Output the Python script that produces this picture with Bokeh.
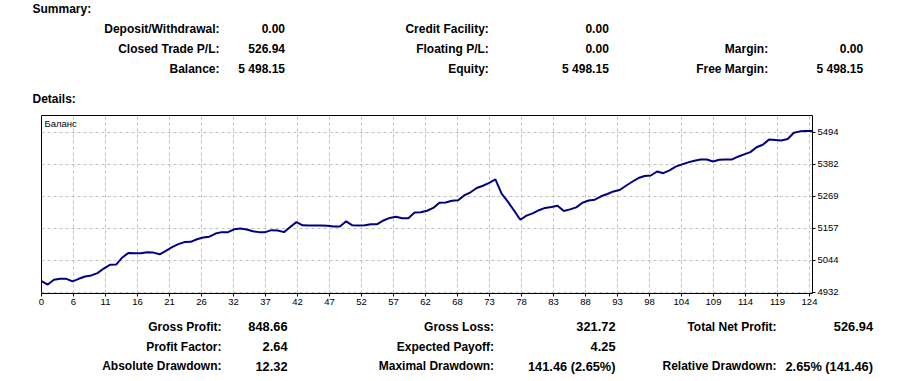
from bokeh.plotting import figure
from bokeh.layouts import column
from bokeh.models import Range1d, FixedTicker, ColumnDataSource, Label
from bokeh.core.properties import value
from bokeh.embed import file_html
from bokeh.resources import INLINE

# ---------------- data ----------------
summary_c1_labels = ["Deposit/Withdrawal:", "Closed Trade P/L:", "Balance:"]
summary_c1_values = ["0.00", "526.94", "5 498.15"]
summary_c2_labels = ["Credit Facility:", "Floating P/L:", "Equity:"]
summary_c2_values = ["0.00", "0.00", "5 498.15"]
summary_c3_labels = ["", "Margin:", "Free Margin:"]
summary_c3_values = ["", "0.00", "5 498.15"]

details_c1_labels = ["Gross Profit:", "Profit Factor:", "Absolute Drawdown:"]
details_c1_values = ["848.66", "2.64", "12.32"]
details_c2_labels = ["Gross Loss:", "Expected Payoff:", "Maximal Drawdown:"]
details_c2_values = ["321.72", "4.25", "141.46 (2.65%)"]
details_c3_labels = ["Total Net Profit:", "", "Relative Drawdown:"]
details_c3_values = ["526.94", "", "2.65% (141.46)"]

balance = [
    4971.21, 4958.89, 4976, 4979, 4979, 4970, 4979, 4987, 4991, 4999,
    5015, 5028, 5029, 5054, 5070, 5069, 5069, 5072, 5071, 5065,
    5077, 5090, 5101, 5108, 5109, 5118, 5124, 5127, 5138, 5143,
    5143, 5153, 5156, 5152, 5146, 5143, 5143, 5150, 5149, 5143,
    5161, 5178, 5167, 5166, 5166, 5166, 5165, 5163, 5163, 5181,
    5167, 5166, 5167, 5171, 5171, 5184, 5193, 5197, 5192, 5192,
    5212, 5213, 5218, 5228, 5246, 5247, 5253, 5255, 5272, 5283,
    5298, 5306, 5316, 5328.00, 5278, 5250, 5219, 5186.54, 5201, 5209,
    5220, 5228, 5231, 5236, 5217, 5223, 5230, 5246, 5254, 5257,
    5269, 5277, 5286, 5291, 5306, 5320, 5333, 5340, 5342, 5356,
    5350, 5360, 5373, 5381, 5388, 5394, 5398, 5398, 5391, 5397,
    5398, 5398, 5408, 5416, 5424, 5441, 5450, 5468, 5467, 5465,
    5470, 5492, 5497, 5498, 5498.15,
]
trade_index = list(range(len(balance)))

x_tick_labels = ["0", "6", "11", "16", "21", "26", "32", "37", "42", "47", "52", "57",
                 "62", "68", "73", "78", "83", "88", "93", "98", "104", "109", "114",
                 "119", "124"]
y_tick_values = [4932.0, 5044.4, 5156.8, 5269.2, 5381.6, 5494.0]
y_tick_labels = ["4932", "5044", "5157", "5269", "5382", "5494"]
series_name = "Баланс"

# ---------------- layout constants ----------------
W = 903
FONT = value("Liberation Sans")


def text_panel(height):
    f = figure(width=W, height=height, x_range=Range1d(0, W), y_range=Range1d(height, 0),
               output_backend="svg", toolbar_location=None, min_border=0,
               x_axis_type=None, y_axis_type=None, frame_align=False)
    f.grid.visible = False
    f.outline_line_color = None
    f.background_fill_color = "white"
    f.border_fill_color = "white"
    return f


def put(f, xs, ys, texts, align, size="12px"):
    keep = [i for i, t in enumerate(texts) if t]
    src = ColumnDataSource(dict(x=[xs[i] for i in keep] if isinstance(xs, list) else [xs] * len(keep),
                                y=[ys[i] for i in keep],
                                t=[texts[i] for i in keep]))
    f.text(x="x", y="y", text="t", source=src, text_align=align, text_baseline="middle",
           text_font=FONT, text_font_style="bold", text_font_size=size, text_color="black")


# header
hdr = text_panel(106)
rows_top = [28.3, 48.3, 68.3]
put(hdr, [32], [8.8], ["Summary:"], "left")
put(hdr, [32], [98.3], ["Details:"], "left")
put(hdr, 219, rows_top, summary_c1_labels, "right")
put(hdr, 284.5, rows_top, summary_c1_values, "right")
put(hdr, 488.3, rows_top, summary_c2_labels, "right")
put(hdr, 608.3, rows_top, summary_c2_values, "right")
put(hdr, 767.7, rows_top, summary_c3_labels, "right")
put(hdr, 862.7, rows_top, summary_c3_values, "right")

# chart
y_lo, y_hi = 4927.4, 5552.7
p = figure(width=W, height=212, x_range=Range1d(0, len(balance) - 1), y_range=Range1d(y_lo, y_hi),
           y_axis_location="right", output_backend="svg", toolbar_location=None, frame_align=False,
           min_border_left=41, min_border_right=91, min_border_top=9, min_border_bottom=25)
p.background_fill_color = "white"
p.border_fill_color = "white"
p.outline_line_color = "black"
p.outline_line_width = 1

step = (len(balance) - 1) / (len(x_tick_labels) - 1) * 768 / 771
x_ticks = [k * step for k in range(len(x_tick_labels))]
p.xaxis.ticker = FixedTicker(ticks=x_ticks)
p.xaxis.major_label_overrides = {t: l for t, l in zip(x_ticks, x_tick_labels)}
p.yaxis.ticker = FixedTicker(ticks=y_tick_values)
p.yaxis.major_label_overrides = {t: l for t, l in zip(y_tick_values, y_tick_labels)}
for ax in (p.xaxis, p.yaxis):
    ax.axis_line_color = None
    ax.major_tick_line_color = "black"
    ax.major_tick_in = 0
    ax.major_tick_out = 3
    ax.minor_tick_line_color = None
    ax.major_label_text_font = "Liberation Sans"
    ax.major_label_text_font_size = "9.5px"
    ax.major_label_text_color = "black"
    ax.major_label_standoff = 2
p.grid.grid_line_color = "#c0c0c0"
p.grid.grid_line_dash = "3 3"
p.grid.grid_line_width = 1

p.line(x=trade_index, y=balance, line_color="#000080", line_width=2)
p.add_layout(Label(x=0, y=y_hi, x_offset=3, y_offset=-8, text=series_name, text_font="Liberation Sans",
                   text_font_size="9.5px", text_color="black", text_baseline="middle", text_align="left"))

# footer
ftr = text_panel(63)
rows_bot = [8, 28.3, 47.7]
put(ftr, 221, rows_bot, details_c1_labels, "right", "12px")
put(ftr, 287, rows_bot, details_c1_values, "right", "12.8px")
put(ftr, 493.6, rows_bot, details_c2_labels, "right", "12px")
put(ftr, 615, rows_bot, details_c2_values, "right", "12.8px")
put(ftr, 776, rows_bot, details_c3_labels, "right", "12px")
put(ftr, 872.5, rows_bot, details_c3_values, "right", "12.8px")

layout = column(hdr, p, ftr, spacing=0)
open("out.html", "w").write(file_html(layout, INLINE))
